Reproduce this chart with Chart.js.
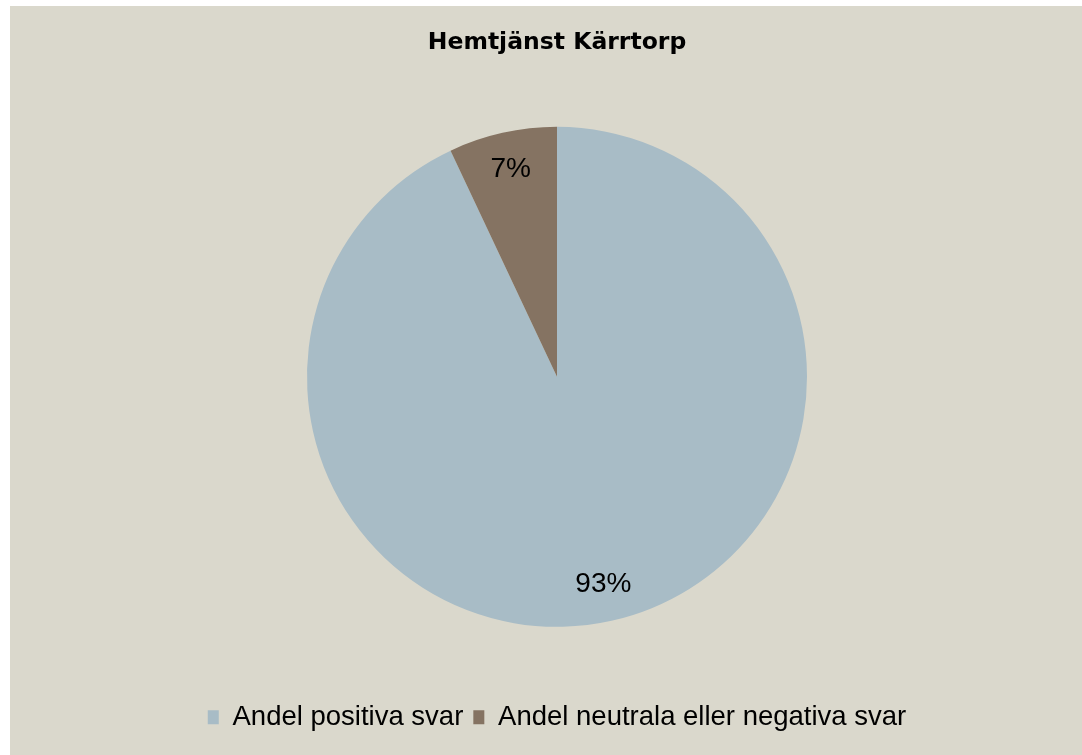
<!DOCTYPE html>
<html>
<head>
<meta charset="utf-8">
<script src="https://cdn.jsdelivr.net/npm/chart.js@4/dist/chart.umd.min.js"></script>
<style>
  body { margin: 0; background: #ffffff; }
  #ram {
    position: absolute; left: 10px; top: 6px;
    width: 1072px; height: 749px; background: #DAD8CC;
  }
</style>
</head>
<body>
<div id="ram"><canvas id="diagram" width="1072" height="749"></canvas></div>
<script>
const kategorier = ["Andel positiva svar", "Andel neutrala eller negativa svar"];
const andelar = [93, 7];
const farger = ["#A8BCC6", "#857362"];
const rubrik = "Hemtjänst Kärrtorp";

// skriver procenttalen inne i tårtbitarna
const procentEtiketter = {
  id: "procentEtiketter",
  afterDatasetsDraw(chart) {
    const ctx = chart.ctx;
    const meta = chart.getDatasetMeta(0);
    ctx.save();
    ctx.font = "28px 'Liberation Sans', Arial, sans-serif";
    ctx.fillStyle = "#000";
    ctx.textAlign = "center";
    ctx.textBaseline = "middle";
    meta.data.forEach((arc, i) => {
      const mitt = (arc.startAngle + arc.endAngle) / 2;
      const r = arc.outerRadius * 0.85;
      const x = arc.x + Math.cos(mitt) * r;
      const y = arc.y + Math.sin(mitt) * r;
      ctx.fillText(andelar[i] + "%", x, y);
    });
    ctx.restore();
  }
};

const ctx = document.getElementById("diagram").getContext("2d");
new Chart(ctx, {
  type: "pie",
  data: {
    labels: kategorier,
    datasets: [{
      data: andelar,
      backgroundColor: farger,
      borderWidth: 0
    }]
  },
  options: {
    responsive: false,
    animation: false,
    radius: 250,
    layout: { padding: { left: 22, right: 0, top: 0, bottom: 14 } },
    plugins: {
      title: {
        display: true,
        text: rubrik,
        color: "#000",
        font: { family: "'DejaVu Sans', Verdana, sans-serif", size: 23.5, weight: "bold" },
        padding: { top: 23, bottom: 3 }
      },
      legend: {
        position: "bottom",
        labels: {
          color: "#000",
          boxWidth: 11,
          boxHeight: 14,
          padding: 10,
          font: { family: "'Liberation Sans', Arial, sans-serif", size: 27.5 }
        }
      },
      tooltip: { enabled: false }
    }
  },
  plugins: [procentEtiketter]
});
</script>
</body>
</html>
